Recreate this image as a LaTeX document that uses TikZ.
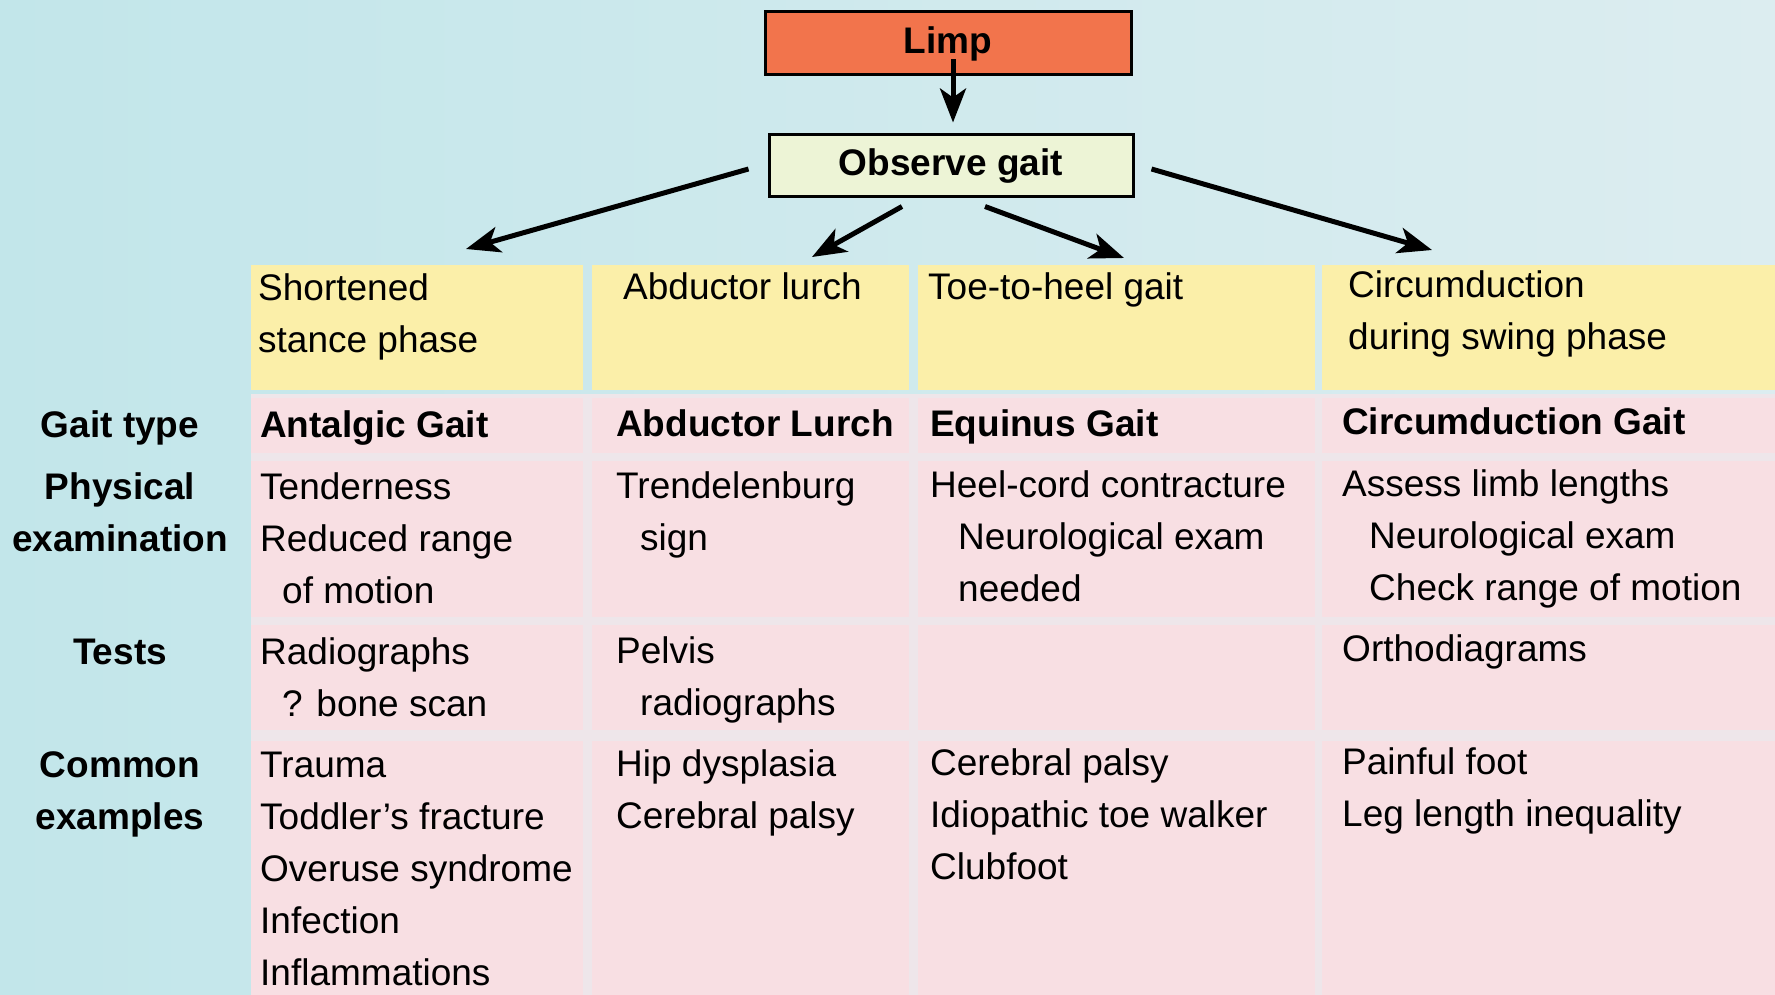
\documentclass[tikz,border=0pt]{standalone}
\usepackage{fontspec}
\setmainfont{Liberation Sans}
\usetikzlibrary{arrows.meta,calc}
\definecolor{bgcyan}{HTML}{C2E6EA}
\definecolor{bglight}{HTML}{DCEDF0}
\definecolor{hdryellow}{HTML}{FBEFA9}
\definecolor{cellpink}{HTML}{F8DFE3}
\definecolor{gridpale}{HTML}{EEE6EA}
\definecolor{limpred}{HTML}{F2744C}
\definecolor{obsgreen}{HTML}{EDF4D6}
\newcommand\celllines[1]{\begin{tabular}[t]{@{}l@{}}#1\end{tabular}}
\newcommand\centerlines[1]{\begin{tabular}[t]{@{}c@{}}#1\end{tabular}}
\begin{document}
\begin{tikzpicture}[x=1pt,y=-1pt,
  txt/.style={inner sep=0pt, anchor=base west, font=\fontsize{37}{52}\selectfont},
  btxt/.style={txt, font=\fontsize{37}{52}\selectfont\bfseries},
  lbl/.style={inner sep=0pt, anchor=base, font=\fontsize{37}{52}\selectfont\bfseries},
  boxnode/.style={draw=black, line width=3pt, inner sep=0pt, font=\fontsize{37}{44}\selectfont\bfseries},
  arr/.style={line width=5pt, -{Stealth[length=34pt,width=26pt,inset=9pt]}},
  hdr/.style={fill=hdryellow},
  cell/.style={fill=cellpink}]
\useasboundingbox (0,0) rectangle (1775,995);
% background
\shade[left color=bgcyan, right color=bglight] (0,0) rectangle (1775,995);
\fill[gridpale] (251,394) rectangle (1775,995);
% header cells
\foreach \xa/\xb in {251/583, 592/909, 918/1315, 1322/1775}{
  \fill[hdr] (\xa,265) rectangle (\xb,390);
}
% pink cells
\foreach \xa/\xb in {251/583, 592/909, 918/1315, 1322/1775}{
  \foreach \ya/\yb in {398/453, 461/617, 625/730, 741/995}{
    \fill[cell] (\xa,\ya) rectangle (\xb,\yb);
  }
}
% top boxes
\node[boxnode, fill=limpred, minimum width=366pt, minimum height=63pt] (limp) at (948,43.5) {Limp};
\node[boxnode, fill=obsgreen, minimum width=364pt, minimum height=62pt] (observe) at (951,166) {Observe gait};
% header texts
\node[txt] (h1) at (258,300) {\celllines{Shortened\\stance phase}};
\node[txt] (h2) at (623,299) {Abductor lurch};
\node[txt] (h3) at (928,299) {Toe-to-heel gait};
\node[txt] (h4) at (1348,297) {\celllines{Circumduction\\during swing phase}};
% arrow targets
\coordinate (a1) at (466,249);
\coordinate (a2) at (812,257);
\coordinate (a3) at (1124,258);
\coordinate (a4) at (1432,250);
\draw[arr] ($(limp.south)+(5,-17)$) -- ($(observe.north)+(2,-11)$);
\draw[arr] ($(observe.west)+(-19,3)$) -- (a1);
\draw[arr] ($(observe.south)+(-49,8)$) -- (a2);
\draw[arr] ($(observe.south)+(34,8)$) -- (a3);
\draw[arr] ($(observe.east)+(17,3)$) -- (a4);
% row labels
\node[lbl] (lg) at (120,437) {Gait type};
\node[lbl] (lp) at (120,499) {\centerlines{Physical\\examination}};
\node[lbl] (lt) at (120,664) {Tests};
\node[lbl] (le) at (120,777) {\centerlines{Common\\examples}};
% gait type row
\node[btxt] (g1) at (260,437) {Antalgic Gait};
\node[btxt] (g2) at (616,436) {Abductor Lurch};
\node[btxt] (g3) at (930,436) {Equinus Gait};
\node[btxt] (g4) at (1342,434) {Circumduction Gait};
% physical examination row
\node[txt] (p1) at (260,499) {\celllines{Tenderness\\Reduced range\\\hspace{22pt}of motion}};
\node[txt] (p2) at (616,498) {\celllines{Trendelenburg\\\hspace{24pt}sign}};
\node[txt] (p3) at (930,497) {\celllines{Heel-cord contracture\\\hspace{28pt}Neurological exam\\\hspace{28pt}needed}};
\node[txt] (p4) at (1342,496) {\celllines{Assess limb lengths\\\hspace{27pt}Neurological exam\\\hspace{27pt}Check range of motion}};
% tests row
\node[txt] (t1) at (260,664) {\celllines{Radiographs\\\hspace{22pt}? bone scan}};
\node[txt] (t2) at (616,663) {\celllines{Pelvis\\\hspace{24pt}radiographs}};
\node[txt] (t4) at (1342,661) {Orthodiagrams};
% common examples row
\node[txt] (e1) at (260,777) {\celllines{Trauma\\Toddler’s fracture\\Overuse syndrome\\Infection\\Inflammations}};
\node[txt] (e2) at (616,776) {\celllines{Hip dysplasia\\Cerebral palsy}};
\node[txt] (e3) at (930,775) {\celllines{Cerebral palsy\\Idiopathic toe walker\\Clubfoot}};
\node[txt] (e4) at (1342,774) {\celllines{Painful foot\\Leg length inequality}};
\end{tikzpicture}
\end{document}
